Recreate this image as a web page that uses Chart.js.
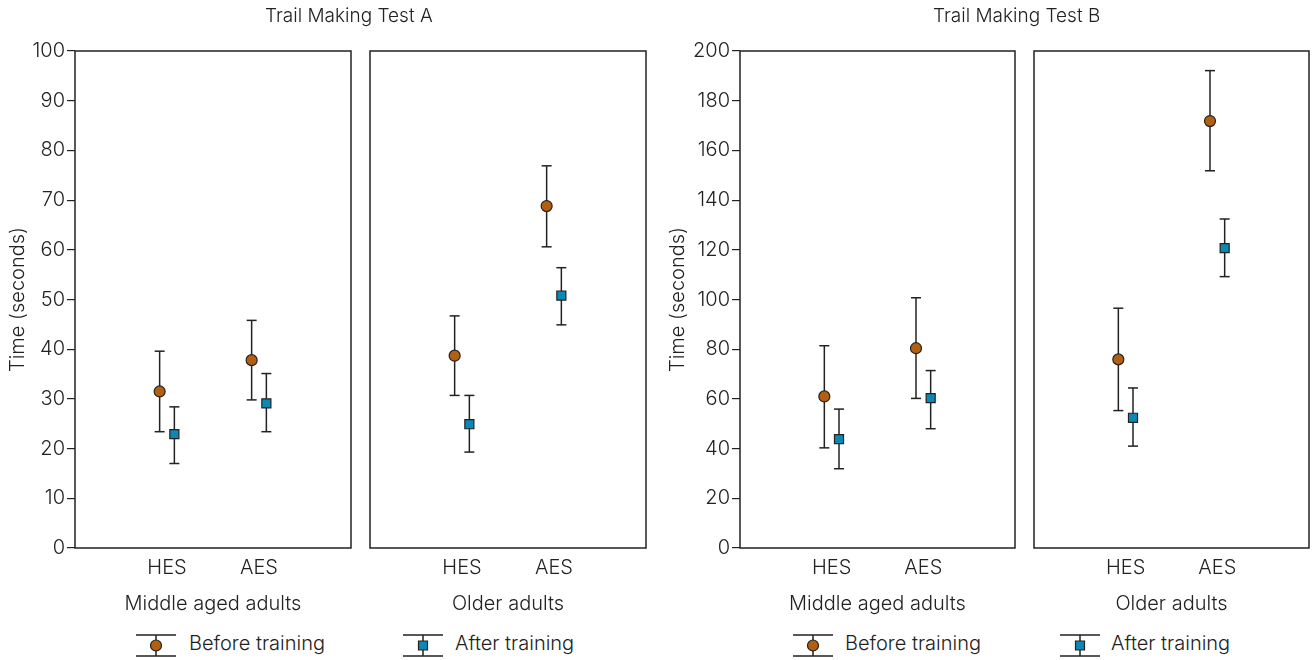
<!DOCTYPE html>
<html>
<head>
<meta charset="utf-8">
<script src="https://cdn.jsdelivr.net/npm/chart.js@4.4.0/dist/chart.umd.min.js"></script>
<style>
  body { margin: 0; background: #fff; width: 1314px; height: 660px; position: relative; overflow: hidden; font-family: Inter, "Noto Sans", sans-serif; font-weight: 300; color: #222; }
  .pane { position: absolute; top: 0; height: 620px; }
  .title { position: absolute; top: 5px; font-size: 19px; line-height: 22px; white-space: nowrap; }
  .leg { position: absolute; top: 631px; font-size: 20px; line-height: 24px; white-space: nowrap; }
  .icon { position: absolute; top: 630px; }
</style>
</head>
<body>
<div class="pane" style="left:0px;width:356px"><canvas id="c1"></canvas></div>
<div class="pane" style="left:365px;width:286px"><canvas id="c2"></canvas></div>
<div class="pane" style="left:660px;width:360px"><canvas id="c3"></canvas></div>
<div class="pane" style="left:1029px;width:285px"><canvas id="c4"></canvas></div>

<div class="title" style="left:265px">Trail Making Test A</div>
<div class="title" style="left:933px">Trail Making Test B</div>

<canvas class="icon" id="i1" width="44" height="30" style="left:134px"></canvas>
<div class="leg" style="left:189px">Before training</div>
<canvas class="icon" id="i2" width="44" height="30" style="left:401px"></canvas>
<div class="leg" style="left:455px">After training</div>
<canvas class="icon" id="i3" width="44" height="30" style="left:791px"></canvas>
<div class="leg" style="left:845px">Before training</div>
<canvas class="icon" id="i4" width="44" height="30" style="left:1058px"></canvas>
<div class="leg" style="left:1111px">After training</div>

<script>
// categories
var categories = ["HES", "AES"];
var groups = ["Middle aged adults", "Older adults"];

// Trail Making Test A (seconds): mean, lower and upper end of error bar
var aMidBefore = [31.5, 37.8];
var aMidBeforeLo = [23.4, 29.8];
var aMidBeforeHi = [39.6, 45.8];
var aMidAfter = [22.9, 29.1];
var aMidAfterLo = [17.0, 23.4];
var aMidAfterHi = [28.4, 35.1];
var aOldBefore = [38.7, 68.8];
var aOldBeforeLo = [30.7, 60.6];
var aOldBeforeHi = [46.7, 76.9];
var aOldAfter = [24.9, 50.8];
var aOldAfterLo = [19.3, 44.9];
var aOldAfterHi = [30.7, 56.4];

// Trail Making Test B (seconds)
var bMidBefore = [61.0, 80.4];
var bMidBeforeLo = [40.3, 60.2];
var bMidBeforeHi = [81.4, 100.7];
var bMidAfter = [43.8, 60.3];
var bMidAfterLo = [31.9, 48.0];
var bMidAfterHi = [55.9, 71.4];
var bOldBefore = [75.9, 171.8];
var bOldBeforeLo = [55.3, 151.8];
var bOldBeforeHi = [96.5, 192.1];
var bOldAfter = [52.4, 120.7];
var bOldAfterLo = [41.0, 109.2];
var bOldAfterHi = [64.4, 132.4];

var yTicksA = [0, 100, 10];
var yTicksB = [0, 200, 20];

var ORANGE = "#b35f12";
var BLUE = "#0b88b5";
var INK = "#222";
var FONT = "Inter, 'Noto Sans', sans-serif";

Chart.defaults.font.family = FONT;
Chart.defaults.font.size = 20;
Chart.defaults.font.weight = 300;
Chart.defaults.color = INK;
Chart.defaults.animation = false;

// box around each plot area
var boxPlugin = {
  id: "box",
  afterDraw: function (chart) {
    var a = chart.chartArea;
    var c = chart.ctx;
    c.save();
    c.strokeStyle = INK;
    c.lineWidth = 1.5;
    c.strokeRect(a.left, a.top, a.right - a.left, a.bottom - a.top);
    c.restore();
  },
};

function errBar(pos, lo, hi) {
  return {
    type: "line",
    data: [{ x: pos, y: lo }, { x: pos, y: hi }],
    borderColor: INK,
    borderWidth: 1.5,
    pointStyle: "line",
    pointRadius: 5,
    pointBorderWidth: 1.5,
    pointBorderColor: INK,
    order: 5,
  };
}

function makePanel(id, before, beforeLo, beforeHi, after, afterLo, afterHi, yt, group, showY, pad) {
  var ds = [];
  ds.push({
    label: "Before training",
    data: before.map(function (v, i) { return { x: i + 1 - 0.08, y: v }; }),
    pointStyle: "circle",
    pointRadius: 5.5,
    backgroundColor: ORANGE,
    borderColor: INK,
    borderWidth: 1.2,
    order: 1,
  });
  ds.push({
    label: "After training",
    data: after.map(function (v, i) { return { x: i + 1 + 0.08, y: v }; }),
    pointStyle: "rect",
    pointRadius: 6.4,
    backgroundColor: BLUE,
    borderColor: INK,
    borderWidth: 1.2,
    order: 1,
  });
  for (var i = 0; i < categories.length; i++) {
    ds.push(errBar(i + 1 - 0.08, beforeLo[i], beforeHi[i]));
    ds.push(errBar(i + 1 + 0.08, afterLo[i], afterHi[i]));
  }
  return new Chart(document.getElementById(id), {
    type: "scatter",
    data: { datasets: ds },
    plugins: [boxPlugin],
    options: {
      responsive: true,
      maintainAspectRatio: false,
      layout: { padding: pad, autoPadding: false },
      plugins: { legend: { display: false }, tooltip: { enabled: false } },
      scales: {
        x: {
          type: "linear",
          min: 0,
          max: 3,
          afterBuildTicks: function (s) { s.ticks = [{ value: 1 }, { value: 2 }]; },
          afterFit: function (s) { s.height = 72; },
          ticks: {
            padding: 8,
            callback: function (v) { return categories[v - 1]; },
          },
          grid: { display: false, drawTicks: false },
          border: { display: false },
          title: { display: true, text: group, padding: { top: 0, bottom: 4 } },
        },
        y: {
          display: showY,
          min: yt[0],
          max: yt[1],
          afterFit: function (s) { if (showY) s.width = 80 - (id === "c1" ? 5 : 0); },
          ticks: { stepSize: yt[2], padding: 2 },
          grid: { drawOnChartArea: false, drawTicks: true, tickLength: 8, color: INK, lineWidth: 1.2 },
          border: { display: false },
          title: { display: true, text: "Time (seconds)", padding: { top: 6, bottom: 0 } },
        },
      },
    },
  });
}

makePanel("c1", aMidBefore, aMidBeforeLo, aMidBeforeHi, aMidAfter, aMidAfterLo, aMidAfterHi, yTicksA, groups[0], true, { top: 51, right: 5, bottom: 0, left: 0 });
makePanel("c2", aOldBefore, aOldBeforeLo, aOldBeforeHi, aOldAfter, aOldAfterLo, aOldAfterHi, yTicksA, groups[1], false, { top: 51, right: 5, bottom: 0, left: 5 });
makePanel("c3", bMidBefore, bMidBeforeLo, bMidBeforeHi, bMidAfter, bMidAfterLo, bMidAfterHi, yTicksB, groups[0], true, { top: 51, right: 5, bottom: 0, left: 0 });
makePanel("c4", bOldBefore, bOldBeforeLo, bOldBeforeHi, bOldAfter, bOldAfterLo, bOldAfterHi, yTicksB, groups[1], false, { top: 51, right: 5, bottom: 0, left: 5 });

// legend icons: error bar with marker
function drawIcon(id, shape, fill) {
  var c = document.getElementById(id).getContext("2d");
  c.strokeStyle = INK;
  c.lineWidth = 1.5;
  c.beginPath();
  c.moveTo(2, 5); c.lineTo(42, 5);
  c.moveTo(2, 26); c.lineTo(42, 26);
  c.moveTo(22, 5); c.lineTo(22, 26);
  c.stroke();
  c.fillStyle = fill;
  c.lineWidth = 1.2;
  c.beginPath();
  if (shape === "circle") c.arc(22, 15.5, 5.5, 0, Math.PI * 2);
  else c.rect(17.5, 11, 9, 9);
  c.fill();
  c.stroke();
}
drawIcon("i1", "circle", ORANGE);
drawIcon("i2", "rect", BLUE);
drawIcon("i3", "circle", ORANGE);
drawIcon("i4", "rect", BLUE);
</script>
</body>
</html>
